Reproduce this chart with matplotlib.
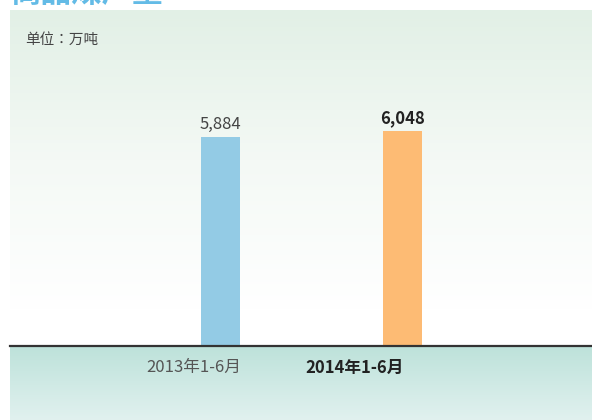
import numpy as np
import matplotlib.pyplot as plt
from matplotlib.colors import LinearSegmentedColormap

plt.rcParams['font.family'] = ['Noto Sans CJK SC', 'DejaVu Sans']

# data
categories = ['2013年1-6月', '2014年1-6月']
values = [5884, 6048]
value_labels = ['5,884', '6,048']
bar_colors = ['#93cbe5', '#fdbb74']
label_shift = [-0.146, -0.264]  # category labels sit left of the bars

W, H = 592, 420
fig = plt.figure(figsize=(W / 100, H / 100), dpi=100)

# page backgrounds (figure coords)
bg = fig.add_axes([0, 0, 1, 1], zorder=0)
bg.axis('off')
top_cmap = LinearSegmentedColormap.from_list('top', ['#e2f0e6', '#f4f9f5', '#ffffff'])
grad = np.linspace(0, 1, 256).reshape(-1, 1)
bg.imshow(grad, cmap=top_cmap, extent=[10, W, 310, 10], aspect='auto')
bot_cmap = LinearSegmentedColormap.from_list('bot', ['#bde2da', '#e1f1ef'])
bg.imshow(grad, cmap=bot_cmap, extent=[10, W, H, 346], aspect='auto')
bg.set_xlim(0, W)
bg.set_ylim(H, 0)

# title (cut off at top edge, as in the source)
fig.text(10 / W, 1 - 9 / H, '商品煤产量', color='#63bbe6', fontsize=22,
         fontweight='bold', va='bottom', ha='left')
fig.text(25 / W, 1 - 40 / H, '单位：万吨', color='#444444', fontsize=10.5,
         va='center', ha='left', family=['Noto Sans CJK TC', 'DejaVu Sans'])

# chart
ax = fig.add_axes([10 / W, (H - 346) / H, (W - 10) / W, 336 / H], zorder=1)
ax.patch.set_alpha(0)
x = np.arange(len(categories))
ax.bar(x, values, width=0.214, color=bar_colors)
ax.set_xlim(-1.1566, 2.041)
ax.set_ylim(0, 6048 * 336 / 215)
for s in ['top', 'right', 'left']:
    ax.spines[s].set_visible(False)
ax.spines['bottom'].set_color('#333333')
ax.spines['bottom'].set_linewidth(1.6)
ax.set_yticks([])
ax.set_xticks(x + np.array(label_shift))
ax.set_xticklabels(categories, fontsize=12)
ax.tick_params(axis='x', length=0, pad=9)
tl = ax.get_xticklabels()
tl[0].set_color('#555555')
tl[1].set_color('#222222')
tl[1].set_fontweight('bold')

ax.text(x[0], values[0] + 120, value_labels[0], ha='center', va='bottom',
        fontsize=12, color='#444444')
ax.text(x[1], values[1] + 120, value_labels[1], ha='center', va='bottom',
        fontsize=12, color='#222222', fontweight='bold')

fig.savefig('out.png', dpi=100)
